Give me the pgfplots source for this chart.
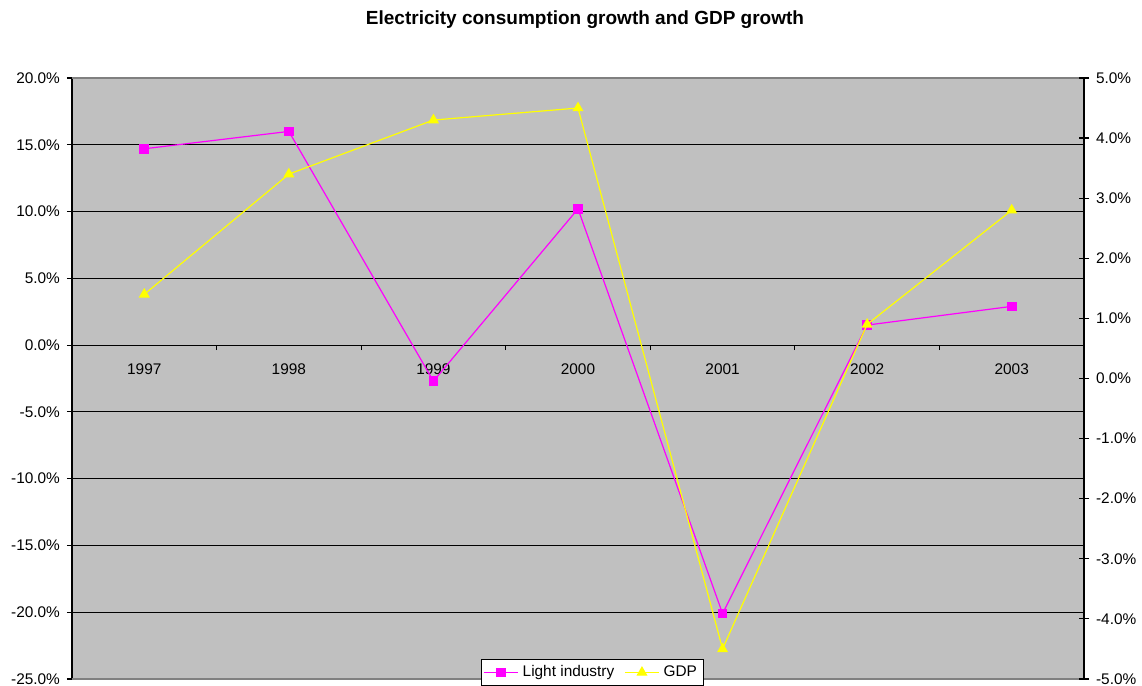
\documentclass[border=0pt]{standalone}
\usepackage{pgfplots}
\pgfplotsset{compat=1.18}
\usepackage{fontspec}
\setmainfont{Liberation Sans}
\definecolor{bggray}{HTML}{C0C0C0}
\definecolor{lightind}{HTML}{FF00FF}
\definecolor{gdpyel}{HTML}{FFFF00}
\definecolor{bordergray}{HTML}{808080}

\pgfplotstableread{
x y
0 14.7
1 16.0
2 -2.7
3 10.2
4 -20.1
5 1.5
6 2.9
}\lighttable

\pgfplotstableread{
x y
0 1.4
1 3.4
2 4.3
3 4.5
4 -4.5
5 0.9
6 2.8
}\gdptable

\begin{document}
\begin{tikzpicture}
\path[use as bounding box] (0,0) rectangle (571pt,343pt);
\node[font=\fontsize{9.5}{11}\selectfont\bfseries] at (292.5pt,333pt) {Electricity consumption growth and GDP growth};
\begin{axis}[
  at={(36pt,3.5pt)}, anchor=south west, scale only axis,
  width=506pt, height=300.5pt,
  xmin=-0.5, xmax=6.5, ymin=-25, ymax=20,
  axis background/.style={fill=bggray, draw=bordergray},
  axis y line=left, axis x line=middle,
  axis line style={-, black, line width=0.6pt},
  every inner x axis line/.append style={-},
  every outer y axis line/.append style={-},
  xtick={0,...,6},
  xticklabels={1997,1998,1999,2000,2001,2002,2003},
  minor xtick={0.5,1.5,2.5,3.5,4.5,5.5},
  major x tick style={draw=none},
  minor x tick style={black, line width=0.6pt},
  minor tick length=2.5pt,
  xtick align=outside,
  ytick={-25,-20,...,20},
  yticklabels={-25.0\%,-20.0\%,-15.0\%,-10.0\%,-5.0\%,0.0\%,5.0\%,10.0\%,15.0\%,20.0\%},
  ytick align=outside,
  major tick length=2.5pt,
  y tick style={black, line width=0.6pt},
  ymajorgrids, major grid style={black, line width=0.5pt},
  tick label style={font=\fontsize{7.7}{9}\selectfont},
  xticklabel style={yshift=-3.5pt},
  clip=false,
]
\addplot[lightind, line width=0.6pt, mark=square*, mark size=2.1pt, mark options={solid, fill=lightind}] table[x=x, y=y] {\lighttable};
\draw[bordergray, line width=0.6pt] (rel axis cs:0,1) -- (rel axis cs:1,1);
\draw[bordergray, line width=0.6pt] (rel axis cs:0,0) -- (rel axis cs:1,0);
\end{axis}
\begin{axis}[
  at={(36pt,3.5pt)}, anchor=south west, scale only axis,
  width=506pt, height=300.5pt,
  xmin=-0.5, xmax=6.5, ymin=-5, ymax=5,
  axis x line=none, axis y line=right,
  axis line style={-, black, line width=0.6pt},
  every outer y axis line/.append style={-},
  ytick={-5,-4,...,5},
  yticklabels={-5.0\%,-4.0\%,-3.0\%,-2.0\%,-1.0\%,0.0\%,1.0\%,2.0\%,3.0\%,4.0\%,5.0\%},
  ytick align=center,
  major tick length=5pt,
  y tick style={black, line width=0.6pt},
  tick label style={font=\fontsize{7.7}{9}\selectfont},
  legend style={at={(0.514,-0.0116)}, anchor=south, legend columns=2,
    draw=black, fill=white, font=\fontsize{7.7}{9}\selectfont,
    inner sep=1pt, /tikz/every even column/.append style={column sep=3pt}},
  clip=false,
]
\addlegendimage{lightind, line width=0.6pt, mark=square*, mark size=2.1pt, mark options={solid, fill=lightind}}
\addlegendentry{Light industry}
\addplot[gdpyel, line width=0.6pt, mark=triangle*, mark size=2.6pt, mark options={solid, fill=gdpyel}] table[x=x, y=y] {\gdptable};
\addlegendentry{GDP}
\end{axis}
\end{tikzpicture}
\end{document}
